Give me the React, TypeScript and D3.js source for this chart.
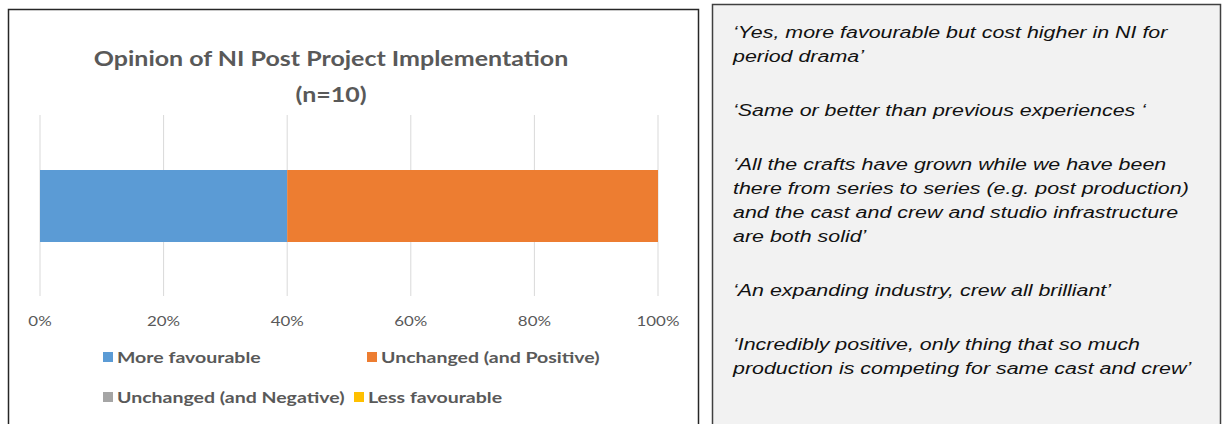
import React from "react";
import * as d3 from "d3";

const categories = ["More favourable", "Unchanged (and Positive)", "Unchanged (and Negative)", "Less favourable"];
const values = [40, 60, 0, 0];
const colors = ["#5b9bd5", "#ed7d31", "#a5a5a5", "#ffc000"];
const ticks = [0, 20, 40, 60, 80, 100];
const titleLines = ["Opinion of NI Post Project Implementation", "(n=10)"];
const quotes = [
  ["\u2018Yes, more favourable but cost higher in NI for", "period drama\u2019"],
  ["\u2018Same or better than previous experiences \u2018"],
  ["\u2018All the crafts have grown while we have been", "there from series to series (e.g. post production)", "and the cast and crew and studio infrastructure", "are both solid\u2019"],
  ["\u2018An expanding industry, crew all brilliant\u2019"],
  ["\u2018Incredibly positive, only thing that so much", "production is competing for same cast and crew\u2019"],
];

export default function App() {
  const W = 1222, H = 424;
  const x = d3.scaleLinear().domain([0, 100]).range([40, 658]);
  const barTop = 170, barBottom = 242;
  const stacked = values.map((v, i) => {
    const start = d3.sum(values.slice(0, i));
    return { v, start, color: colors[i], name: categories[i] };
  });
  const font = "Lato, 'Open Sans', sans-serif";
  const gray = "#595959";
  const sx = 1.25;
  const legendItems = [
    { i: 0, tx: 117, ty: 357 },
    { i: 1, tx: 381, ty: 357 },
    { i: 2, tx: 117, ty: 397 },
    { i: 3, tx: 368, ty: 397 },
  ];
  const lineH = 24;
  const gap = 30;
  let yy = 32;
  const quoteLines: { t: string; y: number }[] = [];
  quotes.forEach((q) => {
    q.forEach((t) => {
      quoteLines.push({ t, y: yy });
      yy += lineH;
    });
    yy += gap;
  });
  return (
    <svg width={W} height={H} style={{ position: "absolute", left: 0, top: 0 }}>
      <rect x={0} y={0} width={W} height={H} fill="#fff" />
      <rect x={8.5} y={9.5} width={690} height={420} fill="#fff" stroke="#262626" strokeWidth={1.5} />
      {titleLines.map((t, i) => (
        <text key={i} transform={`translate(331,${66 + i * 36}) scale(${sx},1)`} textAnchor="middle" fontFamily={font} fontWeight="bold" fontSize={20} fill={gray}>
          {t}
        </text>
      ))}
      {ticks.map((t) => (
        <line key={t} x1={x(t)} x2={x(t)} y1={115} y2={296} stroke="#d9d9d9" strokeWidth={1} />
      ))}
      {stacked.map((s, i) =>
        s.v > 0 ? (
          <rect key={i} x={x(s.start)} y={barTop} width={x(s.start + s.v) - x(s.start)} height={barBottom - barTop} fill={s.color} />
        ) : null
      )}
      {ticks.map((t) => (
        <text key={t} transform={`translate(${x(t)},326) scale(${sx},1)`} textAnchor="middle" fontFamily={font} fontSize={13.5} fill={gray}>
          {t + "%"}
        </text>
      ))}
      {legendItems.map(({ i, tx, ty }) => (
        <g key={i}>
          <rect x={tx - 14} y={ty - 5} width={10} height={10} fill={colors[i]} />
          <text transform={`translate(${tx},${ty + 6}) scale(1.22,1)`} fontFamily={font} fontWeight="bold" fontSize={16} fill={gray}>
            {categories[i]}
          </text>
        </g>
      ))}
      <rect x={712.5} y={4.5} width={508} height={430} fill="#f2f2f2" stroke="#404040" strokeWidth={1.5} />
      {quoteLines.map((l, i) => (
        <text key={i} transform={`translate(733,${l.y + 6}) scale(1.26,1)`} fontFamily="'Liberation Sans', Arial, sans-serif" fontStyle="italic" fontSize={17} fill="#111">
          {l.t}
        </text>
      ))}
    </svg>
  );
}
